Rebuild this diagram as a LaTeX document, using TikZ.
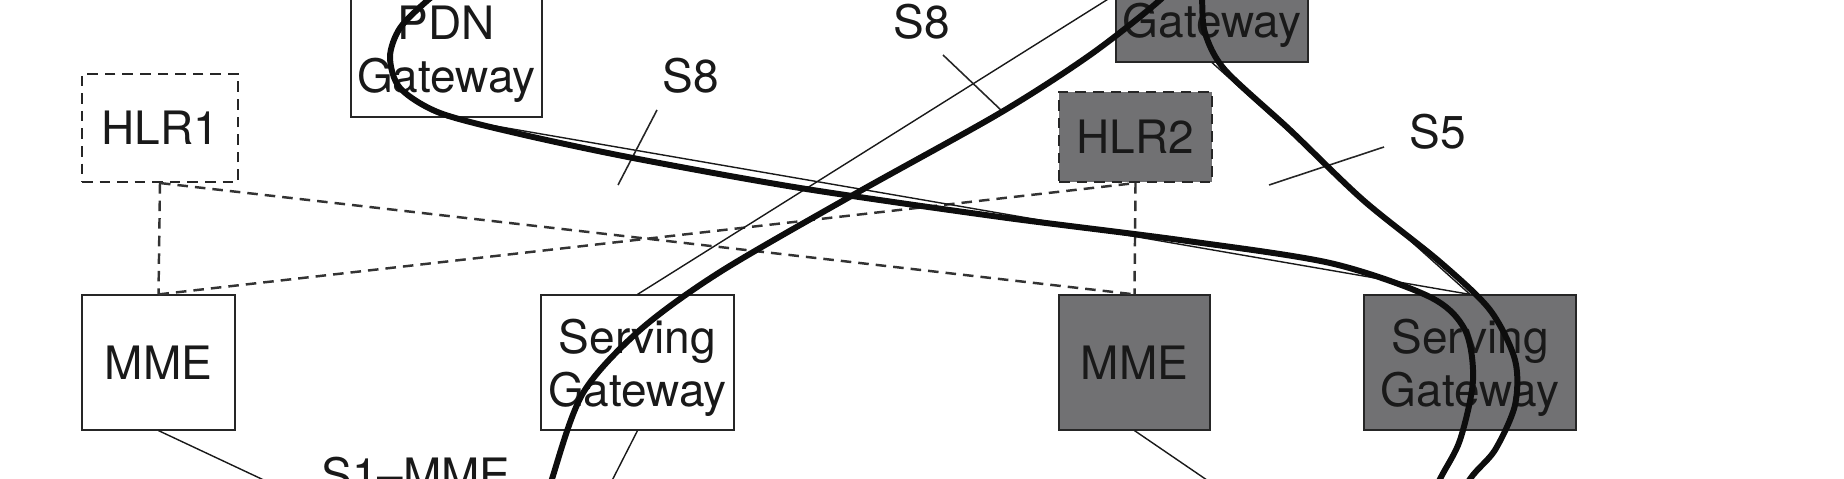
\documentclass[tikz,border=0pt]{standalone}
\usepackage{fontspec}
\setmainfont{TeX Gyre Heros}
\definecolor{boxgray}{RGB}{113,113,115}
\tikzset{
    netbox/.style = {rectangle, draw=black!85, line width=0.7pt, fill=white, align=center, inner sep=0pt, minimum height=2.7cm, text depth=0pt, text=black!90, font=\fontsize{26.2}{30.1}\selectfont},
    netboxg/.style = {netbox, fill=boxgray},
    hlrbox/.style = {netbox, dash pattern=on 6pt off 4pt, line width=1.2pt},
    hlrboxg/.style = {hlrbox, fill=boxgray},
    lbl/.style = {inner sep=0pt, text=black!90, font=\fontsize{26.2}{30.1}\selectfont},
    iface/.style = {line width=0.8pt, draw=black!90},
    tickmark/.style = {line width=0.9pt, draw=black!85},
    hlrline/.style = {line width=1.4pt, draw=black!80, dash pattern=on 6pt off 4pt}, % HLR links
    bearer/.style = {line width=3.4pt, draw=black!95, line cap=round}, % bearer paths
}

\begin{document}
\begin{tikzpicture}[x=0.02cm, y=-0.02cm]
\useasboundingbox (0,0) rectangle (1844,479);
\clip (0,0) rectangle (1844,479);
\node[netbox,  minimum width=3.82cm] at (446.5, 49.5) (pgw1) {PDN\\Gateway};
\node[netboxg, minimum width=3.84cm] at (1212.0, -5.5) (pgw2) {PDN\\Gateway};

\node[hlrbox,  minimum width=3.12cm, minimum height=2.16cm] at (160.0, 128.0) (hlr1) {HLR1};
\node[hlrboxg, minimum width=3.06cm, minimum height=1.80cm] at (1135.5, 137.0) (hlr2) {HLR2};

\node[netbox,  minimum width=3.06cm] at (158.5, 362.5) (mme1) {MME};
\node[netbox,  minimum width=3.86cm] at (637.5, 362.5) (sgw1) {Serving\\Gateway};
\node[netboxg, minimum width=3.02cm] at (1134.5, 362.5) (mme2) {MME};
\node[netboxg, minimum width=4.24cm] at (1470.0, 362.5) (sgw2) {Serving\\Gateway};

\node[lbl] at (922, 22) (s8a) {S8};
\node[lbl] at (691, 76) (s8b) {S8};
\node[lbl] at (1438, 132) (s5) {S5};
\node[lbl] at (416, 475) (s1mme) {S1--MME};

\coordinate (enbA) at (545, 612);
\coordinate (enbB) at (1390, 605);
%
\draw[hlrline] (hlr1.south) -- (mme1.north);
\draw[hlrline] (hlr1.south) -- (mme2.north);
\draw[hlrline] (mme1.north) -- (hlr2.south);
\draw[hlrline] (hlr2.south) -- (mme2.north);

\draw[iface] (mme1.south) -- (enbA);
\draw[iface] (sgw1.south) -- (enbA);
\draw[iface] (mme2.south) -- (enbB);
\draw[iface] (sgw1.north) -- (pgw2.west);
\draw[iface] (pgw1.south) -- (sgw2.north);
\draw[iface] (pgw2.south) -- (sgw2.north);

\draw[tickmark] (657,110) -- (618,185);
\draw[tickmark] (943,55) -- (1003,112);
\draw[tickmark] (1384,147) -- (1269,185);
%
\draw[bearer] plot[smooth] coordinates {(530,560) (552,479) (583,393) (640,330) (720,272) (853,195) (1000,113) (1090,55) (1160,0) (1185,-30)};
\draw[bearer] plot[smooth] coordinates {(1200,-30) (1202,0) (1205,33) (1225,70) (1290,130) (1363,200) (1440,262) (1490,310) (1515,360) (1515,405) (1495,450) (1470,479) (1440,530)};
\draw[bearer] plot[smooth] coordinates {(455,-20) (428,0) (400,28) (390,57) (400,88) (440,113) (520,134) (633,158) (800,188) (1000,217) (1180,240) (1330,263) (1430,297) (1465,330) (1473,380) (1460,440) (1440,479) (1415,530)};
\end{tikzpicture}
\end{document}
